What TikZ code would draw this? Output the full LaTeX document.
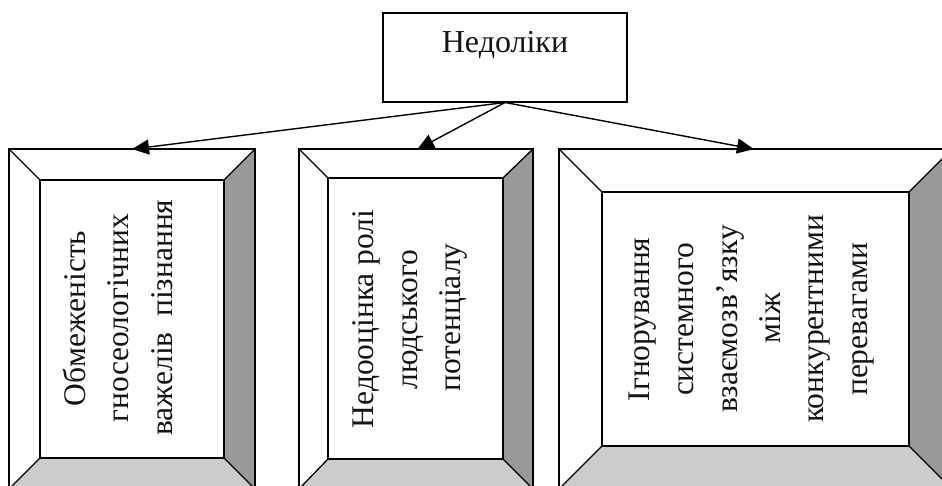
\documentclass[tikz,border=0pt]{standalone}
\usepackage{fontspec}
\setmainfont{Liberation Serif}
\usetikzlibrary{arrows.meta,positioning}
\tikzset{
  x=1pt,y=-1pt,
  plainbox/.style={draw=black,line width=1.7pt,fill=white,minimum width=#1,inner sep=0pt,outer sep=0pt},
  outerline/.style={draw=black,line width=1.7pt,line join=miter},
  bevelline/.style={draw=black,line width=1.3pt,line join=miter},
  vtext/.style={rotate=90,anchor=base,inner sep=0pt,outer sep=0pt,font=\fontsize{31.5pt}{36pt}\selectfont,text=black!92},
  headtext/.style={anchor=base,inner sep=0pt,outer sep=0pt,font=\fontsize{32pt}{36pt}\selectfont,text=black!92},
  pointer/.style={draw=black,line width=1.4pt,-{Triangle[length=17pt,width=15pt]},shorten >=-1pt},
}
% #1 name, #2 #3 #4 #5 outer l t r b, #6 #7 #8 #9 inner l t r b
\newcommand{\bevelbox}[9]{%
  \coordinate (#1ol) at (#2,#3);
  \coordinate (#1or) at (#4,#3);
  \coordinate (#1ob) at (#4,#5);
  \coordinate (#1oa) at (#2,#5);
  \coordinate (#1il) at (#6,#7);
  \coordinate (#1ir) at (#8,#7);
  \coordinate (#1ib) at (#8,#9);
  \coordinate (#1ia) at (#6,#9);
  \fill[white] (#1ol) -- (#1or) -- (#1ob) -- (#1oa) -- cycle;
  \fill[black!40] (#1or) -- (#1ob) -- (#1ib) -- (#1ir) -- cycle;
  \fill[black!20] (#1oa) -- (#1ob) -- (#1ib) -- (#1ia) -- cycle;
  \draw[bevelline] (#1il) -- (#1ir) -- (#1ib) -- (#1ia) -- cycle;
  \draw[bevelline] (#1ol) -- (#1il) (#1or) -- (#1ir) (#1ob) -- (#1ib) (#1oa) -- (#1ia);
  \draw[outerline] (#1ol) -- (#1or) -- (#1ob) -- (#1oa) -- cycle;
}
\begin{document}
\begin{tikzpicture}
\useasboundingbox (0,0) rectangle (942,486);
\clip (0,0) rectangle (942,486);
\fill[white] (0,0) rectangle (942,486);

\node[plainbox=244pt,minimum height=89.5pt] (top) at (505,57.5) {};
\node[headtext] (head) at (505,53) {Недоліки};

\bevelbox{a}{9}{149}{255}{489}{40}{180}{224}{458}
\bevelbox{b}{299}{149}{533}{489}{328}{178}{503}{459}
\bevelbox{c}{559}{149}{952}{489}{602}{192}{909}{446}

\node[vtext] (a1) at (85,318.5) {Обмеженість};
\node[vtext] (a2) at (128,318) {гносеологічних};
\node[vtext] (a3) at (172,317.5) {важелів\ \ пізнання};

\node[vtext] (b1) at (373,319) {Недооцінка ролі};
\node[vtext] (b2) at (417,319.5) {людського};
\node[vtext] (b3) at (460,317.5) {потенціалу};

\node[vtext] (c1) at (649,319.5) {Ігнорування};
\node[vtext] (c2) at (693,319.5) {системного};
\node[vtext] (c3) at (737,319) {взаємозв\kern1pt’\kern1pt язку};
\node[vtext] (c4) at (780,318) {між};
\node[vtext] (c5) at (823,319) {конкурентними};
\node[vtext] (c6) at (867,319.5) {перевагами};

\coordinate (apex) at (505,102.5);
\coordinate (ta) at (133,149);
\coordinate (tb) at (418,149);
\coordinate (tc) at (753,149);
\draw[pointer] (apex) -- (ta);
\draw[pointer] (apex) -- (tb);
\draw[pointer] (apex) -- (tc);
\end{tikzpicture}
\end{document}
